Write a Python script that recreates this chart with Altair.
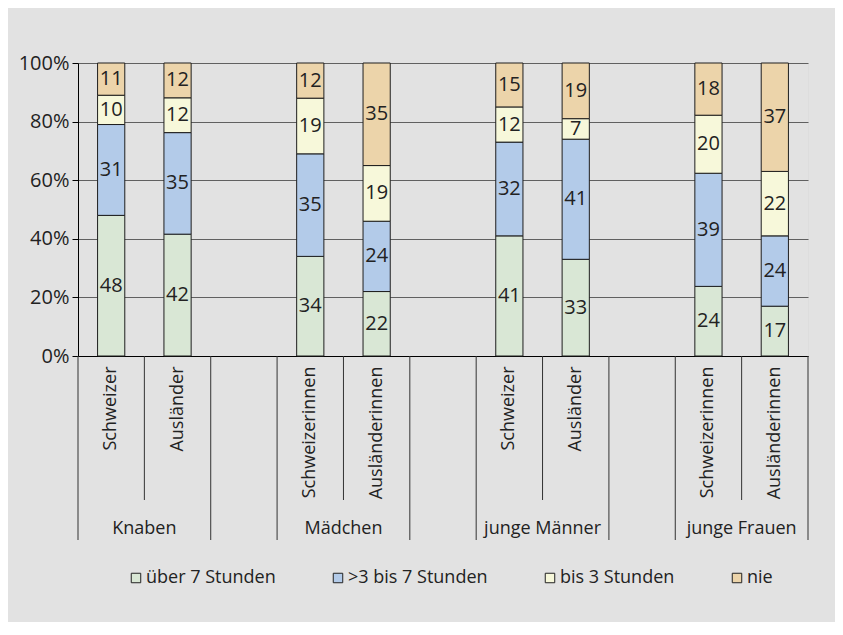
import altair as alt
import pandas as pd

groups = ["Knaben", "Mädchen", "junge Männer", "junge Frauen"]
pair_labels = [
    ["Schweizer", "Ausländer"],
    ["Schweizerinnen", "Ausländerinnen"],
    ["Schweizer", "Ausländer"],
    ["Schweizerinnen", "Ausländerinnen"],
]
series = ["über 7 Stunden", ">3 bis 7 Stunden", "bis 3 Stunden", "nie"]
colors = ["#d9e7d5", "#b3cbe9", "#f7f8da", "#ecd4aa"]
ueber_7 = [48, 42, 34, 22, 41, 33, 24, 17]
drei_bis_7 = [31, 35, 35, 24, 32, 41, 39, 24]
bis_3 = [10, 12, 19, 19, 12, 7, 20, 22]
nie = [11, 12, 12, 35, 15, 19, 18, 37]
y_ticks = [0, 0.2, 0.4, 0.6, 0.8, 1.0]

# slots (bars plus empty gap slots between groups)
slots, bar_slots, second_slots = [], [], []
for gi, g in enumerate(groups):
    for li, lab in enumerate(pair_labels[gi]):
        s = f"{g}|{lab}"
        slots.append(s)
        bar_slots.append(s)
        if li == 1:
            second_slots.append(s)
    if gi < len(groups) - 1:
        slots.append(f"gap{gi + 1}")

values = [ueber_7, drei_bis_7, bis_3, nie]
rows = []
for si, name in enumerate(series):
    for bi, slot in enumerate(bar_slots):
        rows.append({"slot": slot, "series": name, "order": si, "value": values[si][bi]})
df = pd.DataFrame(rows)

bounds = pd.DataFrame({
    "slot": slots,
    "kind": ["short" if s in second_slots else "long" for s in slots],
})
grp_df = pd.DataFrame({"slot": second_slots, "label": groups})

W, H = 730, 293
FS = 18
NFS = 20
TXT = "#222222"
LINE = "#333333"

x_scale = alt.Scale(domain=slots, paddingInner=0, paddingOuter=0)
y_scale = alt.Scale(domain=[0, 1])

base = alt.Chart(df).transform_stack(
    stack="value", groupby=["slot"], as_=["y0", "y1"], offset="normalize",
    sort=[alt.SortField("order", order="ascending")],
)

bars = base.mark_bar(width=alt.RelativeBandSize(0.41), stroke="#1e1e1e", strokeWidth=1).encode(
    x=alt.X("slot:N", scale=x_scale, title=None, axis=alt.Axis(
        labelExpr="indexof(datum.value, '|') >= 0 ? split(datum.value, '|')[1] : ''",
        labelAngle=270, ticks=False, domainColor="black", labelPadding=10,
        labelFontSize=FS, labelColor=TXT, labelOverlap=False, labelLimit=300,
    )),
    y=alt.Y("y0:Q", scale=y_scale, title=None, axis=alt.Axis(
        format=".0%", values=y_ticks, tickSize=6, tickColor="black", domainColor="black",
        grid=True, gridColor="#606060", gridWidth=1.2, labelFontSize=NFS, labelColor=TXT,
        labelPadding=3,
    )),
    y2="y1:Q",
    color=alt.Color("series:N", scale=alt.Scale(domain=series, range=colors), legend=alt.Legend(
        title=None, orient="none", legendX=49, legendY=506, direction="horizontal",
        columns=4, columnPadding=53, symbolType="square", symbolSize=90,
        symbolStrokeColor="#222222", symbolStrokeWidth=1, symbolOpacity=1,
        labelFontSize=FS, labelColor=TXT, labelOffset=1, padding=0, symbolOffset=0,
    )),
    order=alt.Order("order:Q"),
)

labels = base.transform_calculate(mid="(datum.y0 + datum.y1) / 2").mark_text(
    fontSize=NFS, color=TXT, baseline="middle"
).encode(
    x=alt.X("slot:N", scale=x_scale, title=None),
    y=alt.Y("mid:Q", scale=y_scale),
    text=alt.Text("value:Q"),
)

rule_long = alt.Chart(bounds).transform_filter("datum.kind == 'long'").mark_rule(
    color=LINE, strokeWidth=1
).encode(
    x=alt.X("slot:N", scale=x_scale, bandPosition=0, title=None),
    y=alt.value(H), y2=alt.value(H + 184),
)
rule_short = alt.Chart(bounds).transform_filter("datum.kind == 'short'").mark_rule(
    color=LINE, strokeWidth=1
).encode(
    x=alt.X("slot:N", scale=x_scale, bandPosition=0, title=None),
    y=alt.value(H), y2=alt.value(H + 144),
)
rule_end = alt.Chart(bounds).transform_filter(
    alt.FieldEqualPredicate(field="slot", equal=slots[-1])
).mark_rule(color=LINE, strokeWidth=1).encode(
    x=alt.X("slot:N", scale=x_scale, bandPosition=1, title=None),
    y=alt.value(H), y2=alt.value(H + 184),
)

grp_text = alt.Chart(grp_df).mark_text(fontSize=FS, color=TXT, baseline="middle").encode(
    x=alt.X("slot:N", scale=x_scale, bandPosition=0, title=None),
    y=alt.value(H + 173),
    text="label:N",
)

chart = alt.layer(bars, labels, rule_long, rule_short, rule_end, grp_text).properties(
    width=W, height=H,
    autosize=alt.AutoSizeParams(type="none"),
    padding={"left": 70, "top": 55, "right": 27, "bottom": 266},
    background="#e2e2e2",
).configure_view(stroke=LINE, strokeWidth=1).configure(font="Open Sans")

chart.save("out.html", embed_options={"renderer": "svg", "actions": False})
